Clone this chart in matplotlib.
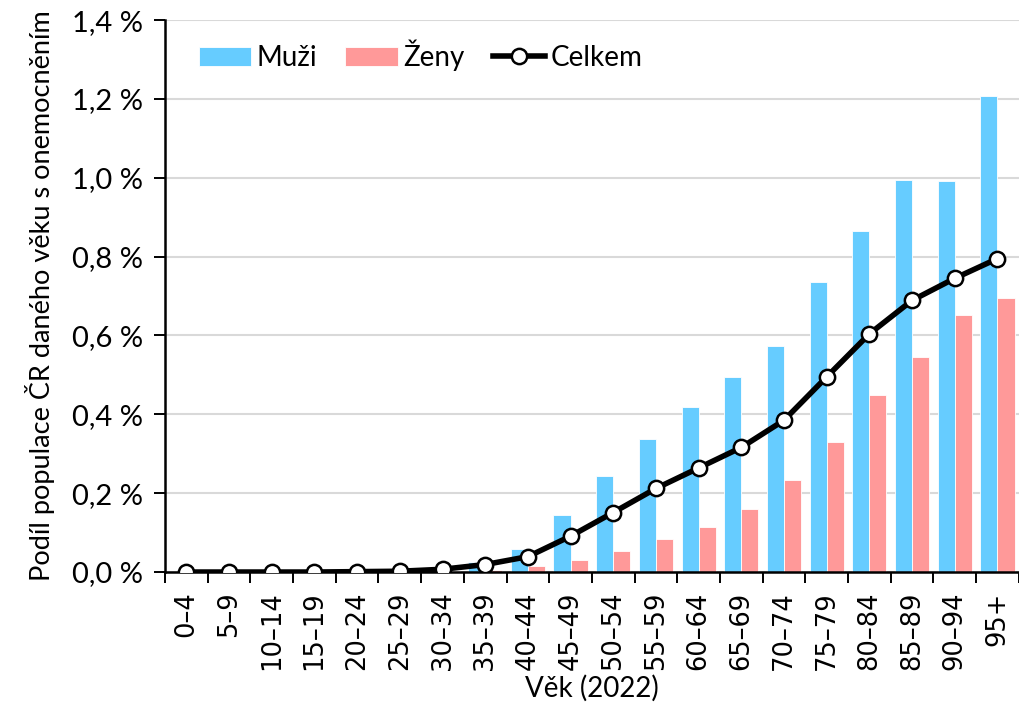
import matplotlib.pyplot as plt
import numpy as np
from matplotlib.ticker import FuncFormatter, FixedLocator

plt.rcParams['font.family'] = ['Lato', 'DejaVu Sans']

vek = ['0–4', '5–9', '10–14', '15–19', '20–24', '25–29', '30–34', '35–39',
       '40–44', '45–49', '50–54', '55–59', '60–64', '65–69', '70–74',
       '75–79', '80–84', '85–89', '90–94', '95+']
muzi = [0.0, 0.0, 0.0, 0.0, 0.001, 0.002, 0.008, 0.025, 0.058, 0.145,
        0.243, 0.337, 0.418, 0.494, 0.573, 0.735, 0.866, 0.994, 0.992, 1.207]
zeny = [0.0, 0.0, 0.0, 0.0, 0.0, 0.001, 0.003, 0.006, 0.015, 0.030,
        0.053, 0.084, 0.114, 0.160, 0.233, 0.330, 0.448, 0.546, 0.652, 0.695]
celkem = [0.0, 0.0, 0.0, 0.0, 0.001, 0.002, 0.007, 0.019, 0.039, 0.091,
          0.151, 0.212, 0.264, 0.316, 0.385, 0.495, 0.604, 0.689, 0.745, 0.795]

x = np.arange(len(vek))
w = 0.4

fig = plt.figure(figsize=(10.2, 7.18), dpi=100)
ax = fig.add_axes([0.1618, 0.2033, 0.837, 0.7687])

b1 = ax.bar(x - w / 2, muzi, w, color='#66CCFF', edgecolor='white', linewidth=0.6, label='Muži', zorder=2)
b2 = ax.bar(x + w / 2, zeny, w, color='#FF9999', edgecolor='white', linewidth=0.6, label='Ženy', zorder=2)
l1, = ax.plot(x, celkem, color='black', lw=4, marker='o', ms=11, mfc='white',
              mec='black', mew=1.8, label='Celkem', zorder=3)

ax.set_xlim(-0.5, len(vek) - 0.5)
ax.set_ylim(0, 1.4)
ax.set_yticks(np.arange(0, 1.41, 0.2))
ax.yaxis.set_major_formatter(FuncFormatter(lambda v, p: f'{v:.1f} %'.replace('.', ',')))
ax.grid(axis='y', color='#D9D9D9', lw=1.5, zorder=0)
ax.set_axisbelow(True)

ax.xaxis.set_major_locator(FixedLocator(np.arange(-0.5, len(vek), 1)))
ax.xaxis.set_minor_locator(FixedLocator(x))
ax.set_xticklabels([], minor=False)
ax.set_xticklabels(vek, minor=True, rotation=90, fontsize=18.5, family='DejaVu Sans')
ax.tick_params(axis='x', which='major', length=8, width=1.4, direction='out')
ax.tick_params(axis='x', which='minor', length=0, pad=14)
ax.tick_params(axis='y', length=8, width=1.4, labelsize=21, pad=8)

for s in ['top', 'right']:
    ax.spines[s].set_visible(False)
for s in ['left', 'bottom']:
    ax.spines[s].set_linewidth(1.8)

ax.set_xlabel('Věk (2022)', fontsize=20, labelpad=3)
ax.set_ylabel('Podíl populace ČR daného věku s onemocněním', fontsize=19.5, labelpad=12)

ax.legend([b1, b2, l1], ['Muži', 'Ženy', 'Celkem'], loc='upper left', ncol=3, frameon=False,
          fontsize=20, bbox_to_anchor=(0.01, 1.01), handlelength=1.9, handletextpad=0.2,
          columnspacing=1.0)

fig.savefig('out.png', dpi=100)
